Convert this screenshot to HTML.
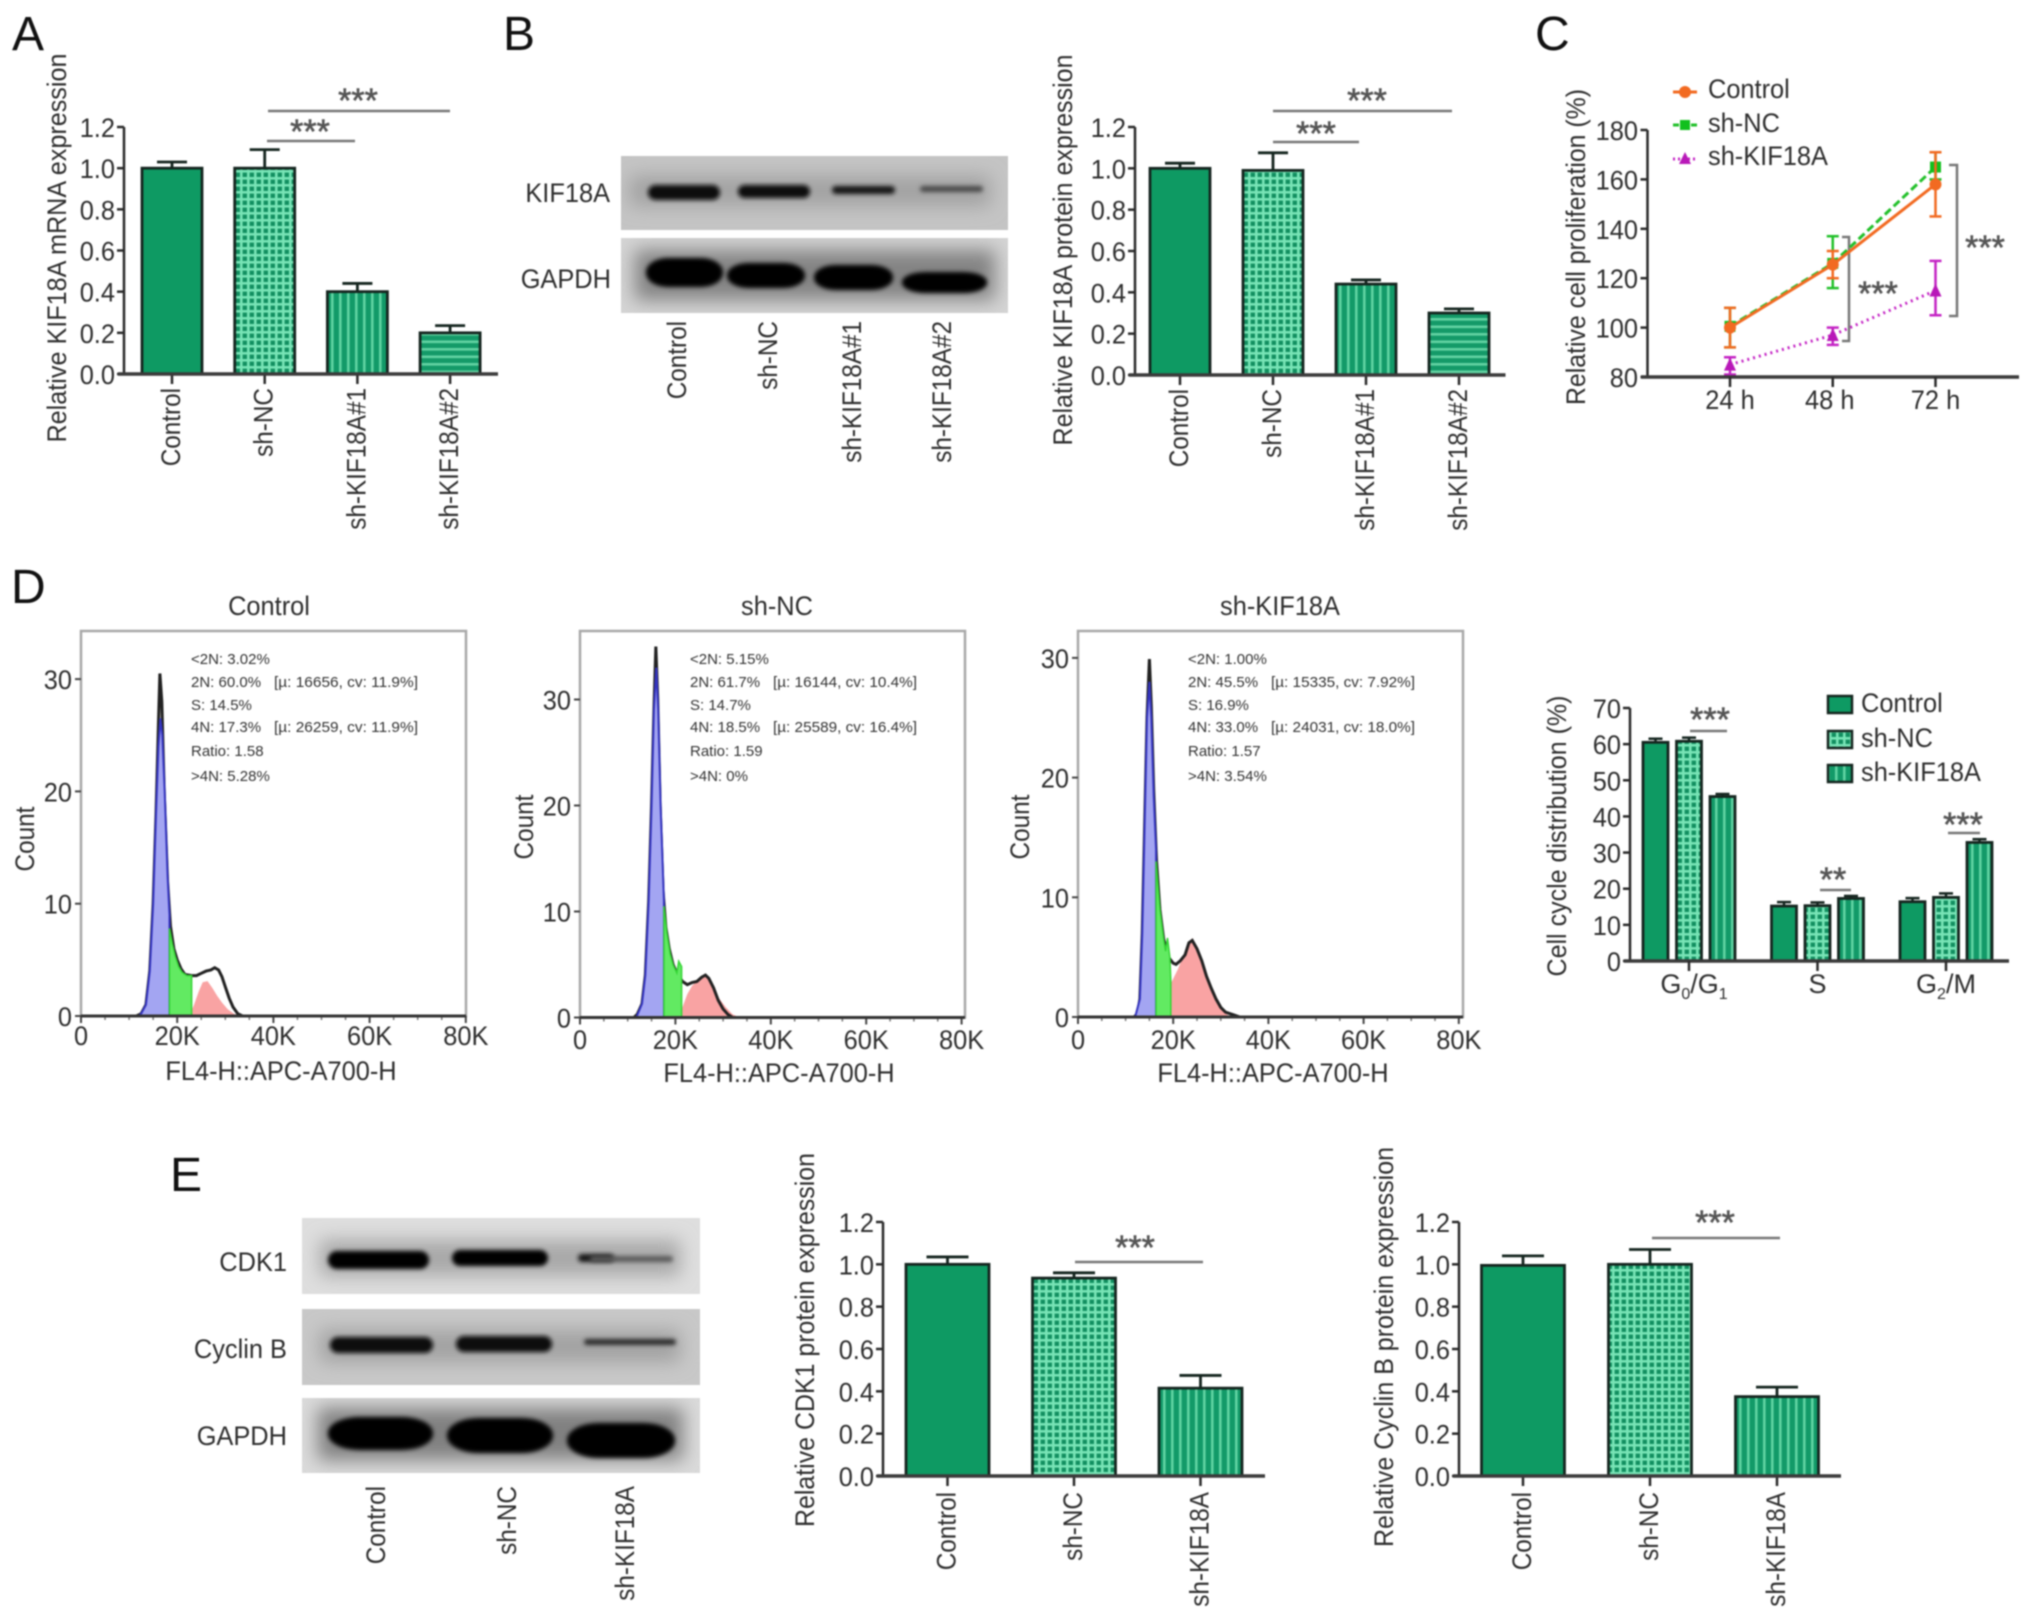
<!DOCTYPE html>
<html lang="en">
<head>
<meta charset="utf-8">
<title>KIF18A knockdown figure</title>
<style>
html,body{margin:0;padding:0;background:#fff;}
svg#figure{display:block;font-family:"Liberation Sans",Arial,sans-serif;fill:#2c2c2c;filter:blur(0.7px);}
.panel{font-size:48px;fill:#111;}
.lab{font-size:27px;fill:#2e2e2e;}
.tit{font-size:27px;fill:#2e2e2e;}
.star{font-size:34px;fill:#555;stroke:#555;stroke-width:.6;text-anchor:middle;transform:translateY(-3px);}
.stat{font-size:15px;fill:#333;}
.sigline{stroke:#777;stroke-width:2.5;fill:none;}
</style>
</head>
<body>
<svg id="figure" xmlns="http://www.w3.org/2000/svg" width="2032" height="1622" viewBox="0 0 2032 1622">
<defs>
<pattern id="pGrid" patternUnits="userSpaceOnUse" width="7" height="7"><rect width="7" height="7" fill="#128f60"/><rect x="2" width="2.6" height="7" fill="#78e4b6"/><rect y="2" width="7" height="2.6" fill="#78e4b6"/></pattern>
<pattern id="pV" patternUnits="userSpaceOnUse" width="8" height="8"><rect width="8" height="8" fill="#129a68"/><rect x="3" width="2.6" height="8" fill="#5fd3a2"/></pattern>
<pattern id="pH" patternUnits="userSpaceOnUse" width="7.5" height="7.5"><rect width="7.5" height="7.5" fill="#149a68"/><rect y="3" width="7.5" height="2.6" fill="#62d2a2"/></pattern>
<filter id="b2" x="-30%" y="-150%" width="160%" height="400%"><feGaussianBlur stdDeviation="2"/></filter>
<filter id="b10" x="-40%" y="-200%" width="180%" height="500%"><feGaussianBlur stdDeviation="9"/></filter>
</defs>

<g>
<text class="panel" x="12" y="50">A</text>
<text class="panel" x="503" y="50">B</text>
<text class="panel" x="1535" y="50">C</text>
<text class="panel" x="11" y="603">D</text>
<text class="panel" x="170" y="1191">E</text>
</g>

<!-- Western blot panel B -->
<g>
<svg x="621" y="156" width="387" height="74" viewBox="621 156 387 74">
<rect x="621" y="156" width="387" height="74" fill="#c4c4c4"/>
<rect x="630" y="176" width="360" height="30" fill="#a2a2a2" filter="url(#b10)"/>
<rect x="648" y="185" width="72" height="15" rx="7.5" fill="#0a0a0a" filter="url(#b2)"/>
<rect x="738" y="185" width="72" height="13" rx="6.5" fill="#0a0a0a" filter="url(#b2)"/>
<rect x="832" y="186" width="63" height="8" rx="4" fill="#161616" filter="url(#b2)"/>
<rect x="920" y="186" width="63" height="6" rx="3" fill="#4a4a4a" filter="url(#b2)"/>
</svg>
<svg x="621" y="238" width="387" height="75" viewBox="621 238 387 75">
<rect x="621" y="238" width="387" height="75" fill="#d4d4d4"/>
<rect x="635" y="250" width="360" height="50" fill="#838383" filter="url(#b10)"/>
<rect x="646" y="258" width="77" height="29" rx="22" ry="14" fill="#050505" filter="url(#b2)"/>
<rect x="727" y="263" width="78" height="25" rx="22" ry="12" fill="#050505" filter="url(#b2)"/>
<rect x="814" y="265" width="79" height="25" rx="22" ry="12" fill="#050505" filter="url(#b2)"/>
<rect x="902" y="272" width="85" height="21" rx="24" ry="10" fill="#050505" filter="url(#b2)"/>
</svg>
<text class="tit" x="610" y="202" text-anchor="end">KIF18A</text>
<text class="tit" x="611" y="288" text-anchor="end">GAPDH</text>
<text class="lab" transform="rotate(-90 686 321)" x="686" y="321" text-anchor="end">Control</text>
<text class="lab" transform="rotate(-90 777 321)" x="777" y="321" text-anchor="end">sh-NC</text>
<text class="lab" transform="rotate(-90 861 321)" x="861" y="321" text-anchor="end">sh-KIF18A#1</text>
<text class="lab" transform="rotate(-90 951 321)" x="951" y="321" text-anchor="end">sh-KIF18A#2</text>
</g>

<!-- Western blot panel E -->
<g>
<svg x="302" y="1218" width="398" height="76" viewBox="302 1218 398 76">
<rect x="302" y="1218" width="398" height="76" fill="#dedede"/>
<rect x="320" y="1240" width="360" height="36" fill="#a8a8a8" filter="url(#b10)"/>
<rect x="328" y="1251" width="101" height="18" rx="9" fill="#060606" filter="url(#b2)"/>
<rect x="452" y="1250" width="96" height="16" rx="8" fill="#060606" filter="url(#b2)"/>
<rect x="578" y="1254" width="36" height="8" rx="4" fill="#151515" filter="url(#b2)"/>
<rect x="590" y="1256" width="83" height="6" rx="3" fill="#5a5a5a" filter="url(#b2)"/>
</svg>
<svg x="302" y="1309" width="398" height="76" viewBox="302 1309 398 76">
<rect x="302" y="1309" width="398" height="76" fill="#c8c8c8"/>
<rect x="320" y="1330" width="360" height="32" fill="#a2a2a2" filter="url(#b10)"/>
<rect x="330" y="1337" width="103" height="16" rx="8" fill="#0a0a0a" filter="url(#b2)"/>
<rect x="456" y="1336" width="96" height="16" rx="8" fill="#0a0a0a" filter="url(#b2)"/>
<rect x="584" y="1339" width="92" height="6" rx="3" fill="#2a2a2a" filter="url(#b2)"/>
</svg>
<svg x="302" y="1398" width="398" height="75" viewBox="302 1398 398 75">
<rect x="302" y="1398" width="398" height="75" fill="#dadada"/>
<rect x="318" y="1408" width="365" height="52" fill="#808080" filter="url(#b10)"/>
<rect x="328" y="1417" width="105" height="33" rx="32" ry="16" fill="#050505" filter="url(#b2)"/>
<rect x="447" y="1418" width="106" height="35" rx="32" ry="17" fill="#050505" filter="url(#b2)"/>
<rect x="567" y="1423" width="108" height="35" rx="32" ry="17" fill="#050505" filter="url(#b2)"/>
</svg>
<text class="tit" x="287" y="1271" text-anchor="end">CDK1</text>
<text class="tit" x="287" y="1358" text-anchor="end">Cyclin B</text>
<text class="tit" x="287" y="1445" text-anchor="end">GAPDH</text>
<text class="lab" transform="rotate(-90 385 1486)" x="385" y="1486" text-anchor="end">Control</text>
<text class="lab" transform="rotate(-90 516 1486)" x="516" y="1486" text-anchor="end">sh-NC</text>
<text class="lab" transform="rotate(-90 634 1486)" x="634" y="1486" text-anchor="end">sh-KIF18A</text>
</g>

<!-- Axis titles -->
<g>
<text class="tit" transform="rotate(-90 66 248)" x="66" y="248" text-anchor="middle" textLength="389" lengthAdjust="spacingAndGlyphs">Relative KIF18A mRNA expression</text>
<text class="tit" transform="rotate(-90 1072 250)" x="1072" y="250" text-anchor="middle" textLength="391" lengthAdjust="spacingAndGlyphs">Relative KIF18A protein expression</text>
<text class="tit" transform="rotate(-90 1585 247)" x="1585" y="247" text-anchor="middle" textLength="316" lengthAdjust="spacingAndGlyphs">Relative cell proliferation (%)</text>
<text class="tit" transform="rotate(-90 1566 836)" x="1566" y="836" text-anchor="middle" textLength="281" lengthAdjust="spacingAndGlyphs">Cell cycle distribution (%)</text>
<text class="tit" transform="rotate(-90 814 1340)" x="814" y="1340" text-anchor="middle" textLength="374" lengthAdjust="spacingAndGlyphs">Relative CDK1 protein expression</text>
<text class="tit" transform="rotate(-90 1393 1347)" x="1393" y="1347" text-anchor="middle" textLength="400" lengthAdjust="spacingAndGlyphs">Relative Cyclin B protein expression</text>
</g>

<!-- Flow cytometry text -->
<g>
<text class="tit" x="269" y="615" text-anchor="middle">Control</text>
<text class="tit" x="777" y="615" text-anchor="middle">sh-NC</text>
<text class="tit" x="1280" y="615" text-anchor="middle">sh-KIF18A</text>
<text class="tit" x="281" y="1080" text-anchor="middle">FL4-H::APC-A700-H</text>
<text class="tit" x="779" y="1082" text-anchor="middle">FL4-H::APC-A700-H</text>
<text class="tit" x="1273" y="1082" text-anchor="middle">FL4-H::APC-A700-H</text>
<text class="tit" transform="rotate(-90 34 839)" x="34" y="839" text-anchor="middle">Count</text>
<text class="tit" transform="rotate(-90 533 827)" x="533" y="827" text-anchor="middle">Count</text>
<text class="tit" transform="rotate(-90 1029 827)" x="1029" y="827" text-anchor="middle">Count</text>

<g>
<text class="stat" x="191" y="664">&lt;2N: 3.02%</text>
<text class="stat" x="191" y="687">2N: 60.0%</text><text class="stat" x="274" y="687" textLength="144" lengthAdjust="spacingAndGlyphs">[µ: 16656, cv: 11.9%]</text>
<text class="stat" x="191" y="710">S: 14.5%</text>
<text class="stat" x="191" y="732">4N: 17.3%</text><text class="stat" x="274" y="732" textLength="144" lengthAdjust="spacingAndGlyphs">[µ: 26259, cv: 11.9%]</text>
<text class="stat" x="191" y="756">Ratio: 1.58</text>
<text class="stat" x="191" y="781">&gt;4N: 5.28%</text>
</g>
<g>
<text class="stat" x="690" y="664">&lt;2N: 5.15%</text>
<text class="stat" x="690" y="687">2N: 61.7%</text><text class="stat" x="773" y="687" textLength="144" lengthAdjust="spacingAndGlyphs">[µ: 16144, cv: 10.4%]</text>
<text class="stat" x="690" y="710">S: 14.7%</text>
<text class="stat" x="690" y="732">4N: 18.5%</text><text class="stat" x="773" y="732" textLength="144" lengthAdjust="spacingAndGlyphs">[µ: 25589, cv: 16.4%]</text>
<text class="stat" x="690" y="756">Ratio: 1.59</text>
<text class="stat" x="690" y="781">&gt;4N: 0%</text>
</g>
<g>
<text class="stat" x="1188" y="664">&lt;2N: 1.00%</text>
<text class="stat" x="1188" y="687">2N: 45.5%</text><text class="stat" x="1271" y="687" textLength="144" lengthAdjust="spacingAndGlyphs">[µ: 15335, cv: 7.92%]</text>
<text class="stat" x="1188" y="710">S: 16.9%</text>
<text class="stat" x="1188" y="732">4N: 33.0%</text><text class="stat" x="1271" y="732" textLength="144" lengthAdjust="spacingAndGlyphs">[µ: 24031, cv: 18.0%]</text>
<text class="stat" x="1188" y="756">Ratio: 1.57</text>
<text class="stat" x="1188" y="781">&gt;4N: 3.54%</text>
</g>
</g>

<!-- Significance annotations -->
<g>
<line class="sigline" x1="268" x2="450" y1="111" y2="111"/>
<text class="star" x="358" y="115">***</text>
<line class="sigline" x1="267" x2="355" y1="141" y2="141"/>
<text class="star" x="310" y="146">***</text>
<line class="sigline" x1="1273" x2="1452" y1="111" y2="111"/>
<text class="star" x="1367" y="115">***</text>
<line class="sigline" x1="1273" x2="1359" y1="142" y2="142"/>
<text class="star" x="1316" y="148">***</text>
<path class="sigline" d="M1842 237H1849V341H1842"/>
<text class="star" x="1878" y="308">***</text>
<path class="sigline" d="M1949 165H1957V316H1949"/>
<text class="star" x="1985" y="262">***</text>
<line class="sigline" x1="1690" x2="1727" y1="731" y2="731"/>
<text class="star" x="1710" y="734">***</text>
<line class="sigline" x1="1820" x2="1851" y1="890" y2="890"/>
<text class="star" x="1833" y="894">**</text>
<line class="sigline" x1="1948" x2="1980" y1="833" y2="833"/>
<text class="star" x="1963" y="839">***</text>
<line class="sigline" x1="1075" x2="1203" y1="1262" y2="1262"/>
<text class="star" x="1135" y="1262">***</text>
<line class="sigline" x1="1652" x2="1780" y1="1238" y2="1238"/>
<text class="star" x="1715" y="1237">***</text>
</g>

<!-- Legends -->
<g>
<g>
<line x1="1673" x2="1697" y1="92" y2="92" stroke="#f26a21" stroke-width="3"/>
<circle cx="1685" cy="92" r="6" fill="#f26a21"/>
<text class="tit" x="1708" y="98">Control</text></g>
<g>
<line x1="1673" x2="1697" y1="125" y2="125" stroke="#22c02a" stroke-width="3" stroke-dasharray="6 3"/>
<rect x="1680" y="120" width="10" height="10" fill="#12c01e"/>
<text class="tit" x="1708" y="132">sh-NC</text></g>
<g>
<line x1="1673" x2="1697" y1="159" y2="159" stroke="#c423c4" stroke-width="3" stroke-dasharray="2 3"/>
<path d="M1685 152L1691 164H1679Z" fill="#b818b8"/>
<text class="tit" x="1708" y="165">sh-KIF18A</text></g>
</g>
<g>
<g>
<rect x="1828" y="696" width="24" height="17" fill="#0e9a63" stroke="#15251f" stroke-width="2.5"/>
<text class="tit" x="1861" y="712">Control</text></g>
<g>
<rect x="1828" y="731" width="24" height="17" fill="url(#pGrid)" stroke="#15251f" stroke-width="2.5"/>
<text class="tit" x="1861" y="747">sh-NC</text></g>
<g>
<rect x="1828" y="765" width="24" height="17" fill="url(#pV)" stroke="#15251f" stroke-width="2.5"/>
<text class="tit" x="1861" y="781">sh-KIF18A</text></g>
</g>

<g id="charts"></g>
</svg>

<script>
// ---- Panel A ----
const aCategories = ['Control', 'sh-NC', 'sh-KIF18A#1', 'sh-KIF18A#2'];
const aValues = [1.0, 1.0, 0.40, 0.20];
const aErrorTops = [1.03, 1.09, 0.44, 0.235];
// ---- Panel B ----
const bCategories = ['Control', 'sh-NC', 'sh-KIF18A#1', 'sh-KIF18A#2'];
const bValues = [1.0, 0.99, 0.44, 0.30];
const bErrorTops = [1.025, 1.075, 0.46, 0.32];
// ---- Panel E charts ----
const cdkCategories = ['Control', 'sh-NC', 'sh-KIF18A'];
const cdkValues = [1.0, 0.935, 0.415];
const cdkErrorTops = [1.035, 0.96, 0.475];
const cycCategories = ['Control', 'sh-NC', 'sh-KIF18A'];
const cycValues = [0.995, 1.0, 0.375];
const cycErrorTops = [1.04, 1.07, 0.42];
const unitTicks = ['0.0', '0.2', '0.4', '0.6', '0.8', '1.0', '1.2'];
// ---- Panel C ----
const timeLabels = ['24 h', '48 h', '72 h'];
const prolifTicks = ['80', '100', '120', '140', '160', '180'];
const prolifControl = [100, 125.5, 158];
const prolifControlLow = [92, 120, 145];
const prolifControlHigh = [108, 131, 171];
const prolifNC = [100.5, 126, 165];
const prolifNCLow = [92, 116, 160];
const prolifNCHigh = [108, 137, 171];
const prolifKIF = [85, 97, 115];
const prolifKIFLow = [81, 93, 105];
const prolifKIFHigh = [88, 100, 127];
// ---- Panel D grouped bars ----
const phaseLabels = ['G0/G1', 'S', 'G2/M'];
const phaseTicks = ['0', '10', '20', '30', '40', '50', '60', '70'];
const phaseControl = [60.5, 15.2, 16.4];
const phaseNC = [60.8, 15.3, 17.6];
const phaseKIF = [45.5, 17.3, 32.8];
const phaseControlTop = [61.5, 16.3, 17.4];
const phaseNCTop = [61.8, 16.2, 18.7];
const phaseKIFTop = [46.2, 18.0, 33.7];
// ---- Flow histograms: [FL4-H in thousands, count] ----
const flowXLabels = ['0', '20K', '40K', '60K', '80K'];
const flowXValues = [0, 20, 40, 60, 80];
const controlYTicks = [0, 10, 20, 30];
const controlTotal = [[0,0],[11.5,0],[12.5,.2],[13.5,1],[14.3,4],[15,10],[15.6,18],[16.1,26],[16.4,30.5],[16.8,28],[17.3,20],[18,12],[18.6,8],[19.3,6],[20,5],[20.8,4.2],[21.6,3.7],[23,3.6],[24,3.6],[25,3.8],[26,4],[27,4.1],[27.8,4.3],[28.6,4.1],[29.3,3.5],[30,2.6],[30.8,1.6],[31.6,.8],[32.6,.2],[33.6,0],[80,0]];
const control2N = [[12,0],[12.5,.2],[13.5,1],[14.3,4],[15,10],[15.6,18],[16.1,24],[16.5,26.5],[16.9,25],[17.4,20],[18,12.5],[18.4,9]];
const controlS = [[18.4,7.8],[19,6.4],[19.6,5.3],[20.3,4.4],[21,3.9],[22,3.6],[23,3.6]];
const control4N = [[22.5,0],[23.5,1],[24.5,2.2],[25.3,3],[26.3,3.1],[27.3,2.5],[28.3,1.8],[29.3,1.2],[30.5,.6],[31.8,.2],[33,0]];
const ncYTicks = [0, 10, 20, 30];
const ncTotal = [[0,0],[11.3,0],[12,.3],[13,1.3],[13.7,4],[14.4,11],[15,20],[15.5,29],[15.9,35],[16.3,30],[16.8,20],[17.4,12],[18,8.5],[18.7,6.5],[19.5,5],[20.5,4],[21.5,3.4],[22.5,3.1],[23.5,3.3],[24.5,3.4],[25.5,3.8],[26.3,4],[27,3.7],[28,2.8],[29,1.6],[30,.8],[31,.3],[32,0],[80,0]];
const nc2N = [[11.8,0],[13,1.3],[13.7,4],[14.4,11],[15,20],[15.5,29],[16,33],[16.4,29],[16.9,20],[17.6,11]];
const ncS = [[17.6,10.5],[18.2,8],[18.9,6],[19.5,5],[20.3,4.2],[20.7,5.3],[21.3,4.8]];
const nc4N = [[20.6,0],[21.5,1],[22.5,2.2],[23.5,3],[25,3.6],[26,4],[27,3.7],[28,2.8],[29,1.9],[30.5,1],[32,.3],[33.5,0]];
const kifYTicks = [0, 10, 20, 30];
const kifTotal = [[0,0],[11.8,0],[12.5,.3],[13,1.5],[13.5,7],[14,16],[14.5,25],[15,29.9],[15.4,26],[15.9,19],[16.5,13],[17.2,9],[18,6.5],[19,5],[20,4.5],[20.6,4.4],[21.5,4.7],[22.5,5.2],[23.3,6.2],[24,6.4],[25,5.7],[26,4.7],[27,3.4],[28,2.4],[29,1.5],[30,.8],[31,.4],[32.5,.2],[34,0],[80,0]];
const kif2N = [[12,0],[13,1.5],[13.5,7],[14,16],[14.5,25],[15,28],[15.4,25],[15.9,18.5],[16.4,14]];
const kifS = [[16.4,13],[17.2,9],[18,6.5],[18.4,5.5],[18.8,6.6],[19.3,5],[19.5,3]];
const kif4N = [[17.6,0],[18.5,1.2],[19.5,2.8],[21,4],[22.5,5.5],[24,6.6],[25,5.8],[26,4.8],[27,3.5],[28,2.4],[29,1.5],[30,.8],[31,.3],[32,0]];

const NS = 'http://www.w3.org/2000/svg';
const root = document.getElementById('charts');
function mk(tag, attrs, parent) {
  const e = document.createElementNS(NS, tag);
  for (const k in attrs) e.setAttribute(k, attrs[k]);
  (parent || root).appendChild(e);
  return e;
}
const AXIS = '#2a2a2a', BAR = '#15251f';

function linear(d0, d1, r0, r1) { return v => r0 + (v - d0) * (r1 - r0) / (d1 - d0); }

function yAxis(g, name, x, y, ticks, labelX) {
  const axis = mk('line', {x1: x, x2: x, y1: y(+ticks[ticks.length - 1]), y2: y(+ticks[0]), stroke: AXIS, 'stroke-width': 2.5}, g);
  
  
  ticks.forEach(t => {
    const tk = mk('line', {x1: x - 7, x2: x, y1: y(+t), y2: y(+t), stroke: AXIS, 'stroke-width': 2.5}, g);
    
    
    const lb = mk('text', {x: labelX, y: y(+t) + 10, 'text-anchor': 'end', class: 'lab'}, g);
    
    
    lb.textContent = t;
  });
}
function xAxisLine(g, name, x1, x2, y) {
  const axis = mk('line', {x1: x1, x2: x2, y1: y, y2: y, stroke: '#3a3a3a', 'stroke-width': 3.5}, g);
  
  
}
function errorBar(g, name, cx, yBase, yTop, halfCap, color, width) {
  const st = mk('line', {x1: cx, x2: cx, y1: yBase, y2: yTop, stroke: color, 'stroke-width': width}, g);
  
  
  const cap = mk('line', {x1: cx - halfCap, x2: cx + halfCap, y1: yTop, y2: yTop, stroke: color, 'stroke-width': width}, g);
  
  
}
function barRect(g, name, cx, w, yTop, y0, fill) {
  const r = mk('rect', {x: cx - w / 2, y: yTop, width: w, height: y0 - yTop, fill: fill, stroke: BAR, 'stroke-width': 2.8}, g);
  
  
}
const FILLS = ['#0e9a63', 'url(#pGrid)', 'url(#pV)', 'url(#pH)'];

function barChart(name, L, cats, vals, tops, fills, ticks) {
  const g = mk('g', {});
  
  
  const y = linear(0, 1.2, L.y0, L.yTop);
  const x = i => L.first + i * L.step;
  vals.forEach((v, i) => {
    errorBar(g, name + '-bar-' + i, x(i), y(v), y(tops[i]), L.cap, BAR, 2.8);
    barRect(g, name + '-bar-' + i, x(i), L.barW, y(v), L.y0, fills[i]);
    const tk = mk('line', {x1: x(i), x2: x(i), y1: L.y0, y2: L.y0 + 10, stroke: AXIS, 'stroke-width': 2.5}, g);
    
    
    const ty = L.y0 + L.labelGap, tx = x(i) + 8;
    const lb = mk('text', {x: tx, y: ty, 'text-anchor': 'end', class: 'lab', transform: 'rotate(-90 ' + tx + ' ' + ty + ')'}, g);
    
    
    lb.textContent = cats[i];
  });
  yAxis(g, name, L.axisX, v => y(+v), ticks, L.axisX - 9);
  xAxisLine(g, name, L.axisX - 6, L.xEnd, L.y0);
}
barChart('panel-a', {axisX: 124, y0: 374, yTop: 127, first: 172, step: 92.7, barW: 60, cap: 15, xEnd: 498, labelGap: 14}, aCategories, aValues, aErrorTops, FILLS, unitTicks);
barChart('panel-b', {axisX: 1135, y0: 375, yTop: 127, first: 1180, step: 93, barW: 60, cap: 15, xEnd: 1505.5, labelGap: 14}, bCategories, bValues, bErrorTops, FILLS, unitTicks);
barChart('cdk1', {axisX: 883, y0: 1476, yTop: 1222, first: 947.5, step: 126.5, barW: 83, cap: 21, xEnd: 1265, labelGap: 16}, cdkCategories, cdkValues, cdkErrorTops, FILLS, unitTicks);
barChart('cyclin-b', {axisX: 1459, y0: 1476, yTop: 1222, first: 1523, step: 127, barW: 83, cap: 21, xEnd: 1841, labelGap: 16}, cycCategories, cycValues, cycErrorTops, FILLS, unitTicks);

// ---- Panel C: line chart ----
(function () {
  const g = mk('g', {});
  
  
  const y = linear(80, 180, 377, 130);
  const x = i => 1730 + i * 102.75;
  const series = [
    {name: 'sh-kif18a', v: prolifKIF, lo: prolifKIFLow, hi: prolifKIFHigh, color: '#c423c4', dash: '2 4', marker: 'tri'},
    {name: 'sh-nc', v: prolifNC, lo: prolifNCLow, hi: prolifNCHigh, color: '#22c02a', dash: '8 4', marker: 'sq'},
    {name: 'control', v: prolifControl, lo: prolifControlLow, hi: prolifControlHigh, color: '#f26a21', dash: '', marker: 'dot'}
  ];
  series.forEach(s => {
    const pl = mk('polyline', {points: s.v.map((v, i) => x(i) + ',' + y(v)).join(' '), fill: 'none', stroke: s.color, 'stroke-width': 3, 'stroke-dasharray': s.dash}, g);
    
    
    s.v.forEach((v, i) => {
      const st = mk('line', {x1: x(i), x2: x(i), y1: y(s.lo[i]), y2: y(s.hi[i]), stroke: s.color, 'stroke-width': 2.5}, g);
      
      
      [s.lo[i], s.hi[i]].forEach(e => {
        const c = mk('line', {x1: x(i) - 6, x2: x(i) + 6, y1: y(e), y2: y(e), stroke: s.color, 'stroke-width': 2.5}, g);
        
        
      });
      let m;
      if (s.marker === 'dot') m = mk('circle', {cx: x(i), cy: y(v), r: 6, fill: s.color}, g);
      else if (s.marker === 'sq') m = mk('rect', {x: x(i) - 5.5, y: y(v) - 5.5, width: 11, height: 11, fill: '#12c01e'}, g);
      else m = mk('path', {d: 'M' + x(i) + ' ' + (y(v) - 7) + 'l6 13h-12z', fill: '#b818b8'}, g);
      
      
    });
  });
  yAxis(g, 'panel-c', 1647.5, v => y(+v), prolifTicks, 1638);
  xAxisLine(g, 'panel-c', 1641, 2019, 377);
  timeLabels.forEach((t, i) => {
    const tk = mk('line', {x1: x(i), x2: x(i), y1: 377, y2: 387, stroke: AXIS, 'stroke-width': 2.5}, g);
    
    
    const lb = mk('text', {x: x(i) - (i === 1 ? 3 : 0), y: 409, 'text-anchor': 'middle', class: 'lab'}, g);
    
    
    lb.textContent = t;
  });
})();

// ---- Panel D: grouped bars ----
(function () {
  const g = mk('g', {});
  
  
  const y = linear(0, 70, 961, 708);
  const center = i => 1689 + i * 128.5;
  const groups = [
    {name: 'control', v: phaseControl, top: phaseControlTop, off: -33.5, fill: FILLS[0]},
    {name: 'sh-nc', v: phaseNC, top: phaseNCTop, off: 0, fill: FILLS[1]},
    {name: 'sh-kif18a', v: phaseKIF, top: phaseKIFTop, off: 33.5, fill: FILLS[2]}
  ];
  groups.forEach(s => s.v.forEach((v, i) => {
    const cx = center(i) + s.off;
    errorBar(g, s.name + '-phase-' + i, cx, y(v), y(s.top[i]), 7, BAR, 2.5);
    barRect(g, s.name + '-phase-' + i, cx, 25, y(v), 961, s.fill);
  }));
  yAxis(g, 'panel-d', 1630, v => y(+v), phaseTicks, 1621);
  xAxisLine(g, 'panel-d', 1624, 2009, 961);
  phaseLabels.forEach((t, i) => {
    const tk = mk('line', {x1: center(i), x2: center(i), y1: 961, y2: 971, stroke: AXIS, 'stroke-width': 2.5}, g);
    
    
    const lb = mk('text', {x: center(i) + (i === 0 ? 5 : 0), y: 993, 'text-anchor': 'middle', class: 'lab'}, g);
    
    
    t.split(/(\d)/).forEach(part => {
      if (!part) return;
      const isSub = /\d/.test(part);
      const sp = mk('tspan', isSub ? {dy: 6, 'font-size': 16} : {dy: 0}, lb);
      sp.textContent = part;
      if (isSub) {
        const reset = mk('tspan', {dy: -6, 'font-size': 27}, lb);
        reset.textContent = '\u200b';
      }
    });
  });
})();

// ---- Panel D: flow histograms ----
function area(points, x, y, base) {
  let d = 'M' + x(points[0][0]) + ' ' + base;
  points.forEach(p => { d += 'L' + x(p[0]) + ' ' + y(p[1]); });
  return d + 'L' + x(points[points.length - 1][0]) + ' ' + base + 'Z';
}
function flow(name, L, total, n2, s, n4, yTicks) {
  const g = mk('g', {});
  
  
  const x = k => L.x0 + k * L.perK;
  const y = c => L.y0 - c * L.perCount;
  const box = mk('rect', {x: L.x0, y: 631, width: 385, height: L.y0 - 631, fill: 'none', stroke: '#a8a8a8', 'stroke-width': 2.5}, g);
  
  
  const red = mk('path', {d: area(n4, x, y, L.y0), fill: '#f9a3a3'}, g);
  
  
  const curve = mk('polyline', {points: total.map(p => x(p[0]) + ',' + y(p[1])).join(' '), fill: 'none', stroke: '#222', 'stroke-width': 3}, g);
  
  
  const blue = mk('path', {d: area(n2, x, y, L.y0), fill: '#a3a5f2', stroke: '#3434c0', 'stroke-width': 2}, g);
  
  
  const green = mk('path', {d: area(s, x, y, L.y0), fill: '#62ea62', stroke: '#35d535', 'stroke-width': 1.5}, g);
  
  
  for (let k = 5; k <= 80; k += 5) {
    if (k % 20 === 0) continue;
    const t = mk('line', {x1: x(k), x2: x(k), y1: L.y0, y2: L.y0 + 4, stroke: '#777', 'stroke-width': 1.5}, g);
    
    
  }
  flowXValues.forEach((k, i) => {
    const t = mk('line', {x1: x(k), x2: x(k), y1: L.y0, y2: L.y0 + 7, stroke: '#444', 'stroke-width': 2}, g);
    
    
    const lb = mk('text', {x: x(k), y: L.labelY, 'text-anchor': 'middle', class: 'lab'}, g);
    
    
    lb.textContent = flowXLabels[i];
  });
  yTicks.forEach(c => {
    const t = mk('line', {x1: L.x0 - 6, x2: L.x0, y1: y(c), y2: y(c), stroke: '#444', 'stroke-width': 2}, g);
    
    
    const lb = mk('text', {x: L.x0 - 9, y: y(c) + 10, 'text-anchor': 'end', class: 'lab'}, g);
    
    
    lb.textContent = c;
  });
  const base = mk('line', {x1: L.x0, x2: L.x0 + 385, y1: L.y0, y2: L.y0, stroke: '#333', 'stroke-width': 3}, g);
  
  
}
flow('flow-control', {x0: 81, perK: 4.81, y0: 1016, perCount: 11.23, labelY: 1045}, controlTotal, control2N, controlS, control4N, controlYTicks);
flow('flow-sh-nc', {x0: 580, perK: 4.77, y0: 1017.5, perCount: 10.6, labelY: 1049}, ncTotal, nc2N, ncS, nc4N, ncYTicks);
flow('flow-sh-kif18a', {x0: 1078, perK: 4.76, y0: 1017, perCount: 11.97, labelY: 1049}, kifTotal, kif2N, kifS, kif4N, kifYTicks);

// The reference typeface is tall and slightly condensed.
document.querySelectorAll('text.lab, text.tit').forEach(t => {
  if (t.hasAttribute('textLength') || t.querySelector('tspan')) return;
  const len = t.getComputedTextLength();
  const factor = t.hasAttribute('transform') ? 0.9 : 0.94;
  t.setAttribute('textLength', (len * factor).toFixed(1));
  t.setAttribute('lengthAdjust', 'spacingAndGlyphs');
});
</script>
</body>
</html>
